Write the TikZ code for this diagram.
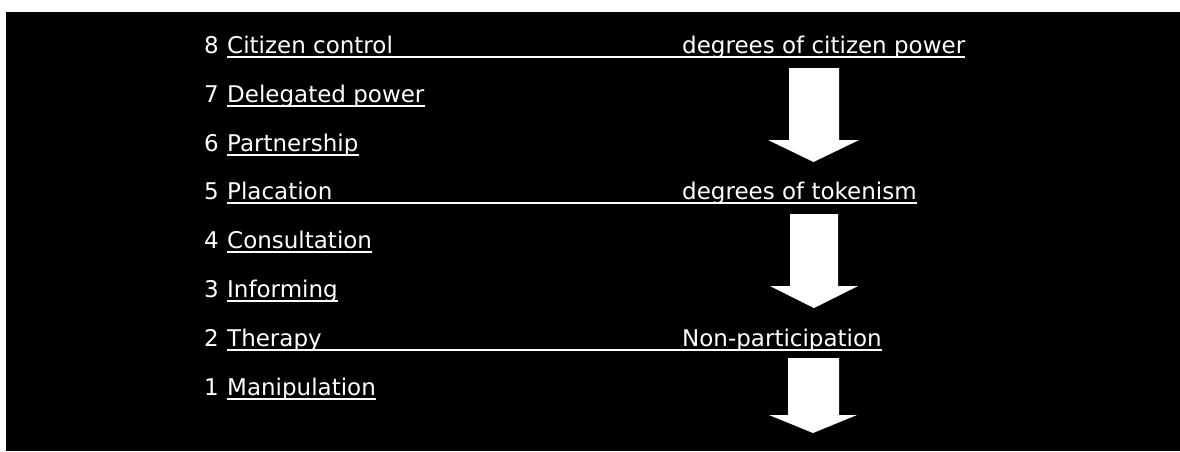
\documentclass[tikz,border=0pt]{standalone}
\usepackage{fontspec}
\setmainfont{DejaVu Sans}
\begin{document}
\begin{tikzpicture}[x=1pt,y=-1pt,
  lbl/.style={anchor=base west, inner sep=0pt, text=white,
              font=\fontsize{23}{27}\selectfont},
  uline/.style={draw=white, line width=1.7pt},
  bigarrow/.style={fill=white, draw=none}]
\useasboundingbox (0,0) rectangle (1180,451);
\fill[white] (0,0) rectangle (1180,451);
\fill[black] (6,12) rectangle (1180,451);

% ladder rungs: number, name, baseline
\foreach \i/\name/\y in {8/Citizen control/53, 7/Delegated power/102,
    6/Partnership/151, 5/Placation/199, 4/Consultation/248,
    3/Informing/297, 2/Therapy/346, 1/Manipulation/395}{
  \node[lbl] (n\i) at (204,\y) {\i};
  \node[lbl] (t\i) at (227,\y) {\name};
}

% group labels
\node[lbl] (g8) at (682,53)  {degrees of citizen power};
\node[lbl] (g5) at (682,199) {degrees of tokenism};
\node[lbl] (g2) at (682,346) {Non-participation};

% underlines of single rungs
\foreach \i in {7,6,4,3,1}{
  \draw[uline] ([yshift=-4pt]t\i.base west) -- ([yshift=-4pt]t\i.base east);
}
% long underlines running to the group labels
\foreach \i in {8,5,2}{
  \draw[uline] ([yshift=-4pt]t\i.base west) -- ([yshift=-4pt]g\i.base east);
}

% downward block arrows
\fill[bigarrow] (789,68) -- (839,68) -- (839,140) -- (859,140)
  -- (813.5,162) -- (768,140) -- (789,140) -- cycle;
\fill[bigarrow] (790,214) -- (838,214) -- (838,286) -- (858,286)
  -- (814,308) -- (770,286) -- (790,286) -- cycle;
\fill[bigarrow] (788,358) -- (839,358) -- (839,415) -- (857,415)
  -- (813,433) -- (769,415) -- (788,415) -- cycle;
\end{tikzpicture}
\end{document}
